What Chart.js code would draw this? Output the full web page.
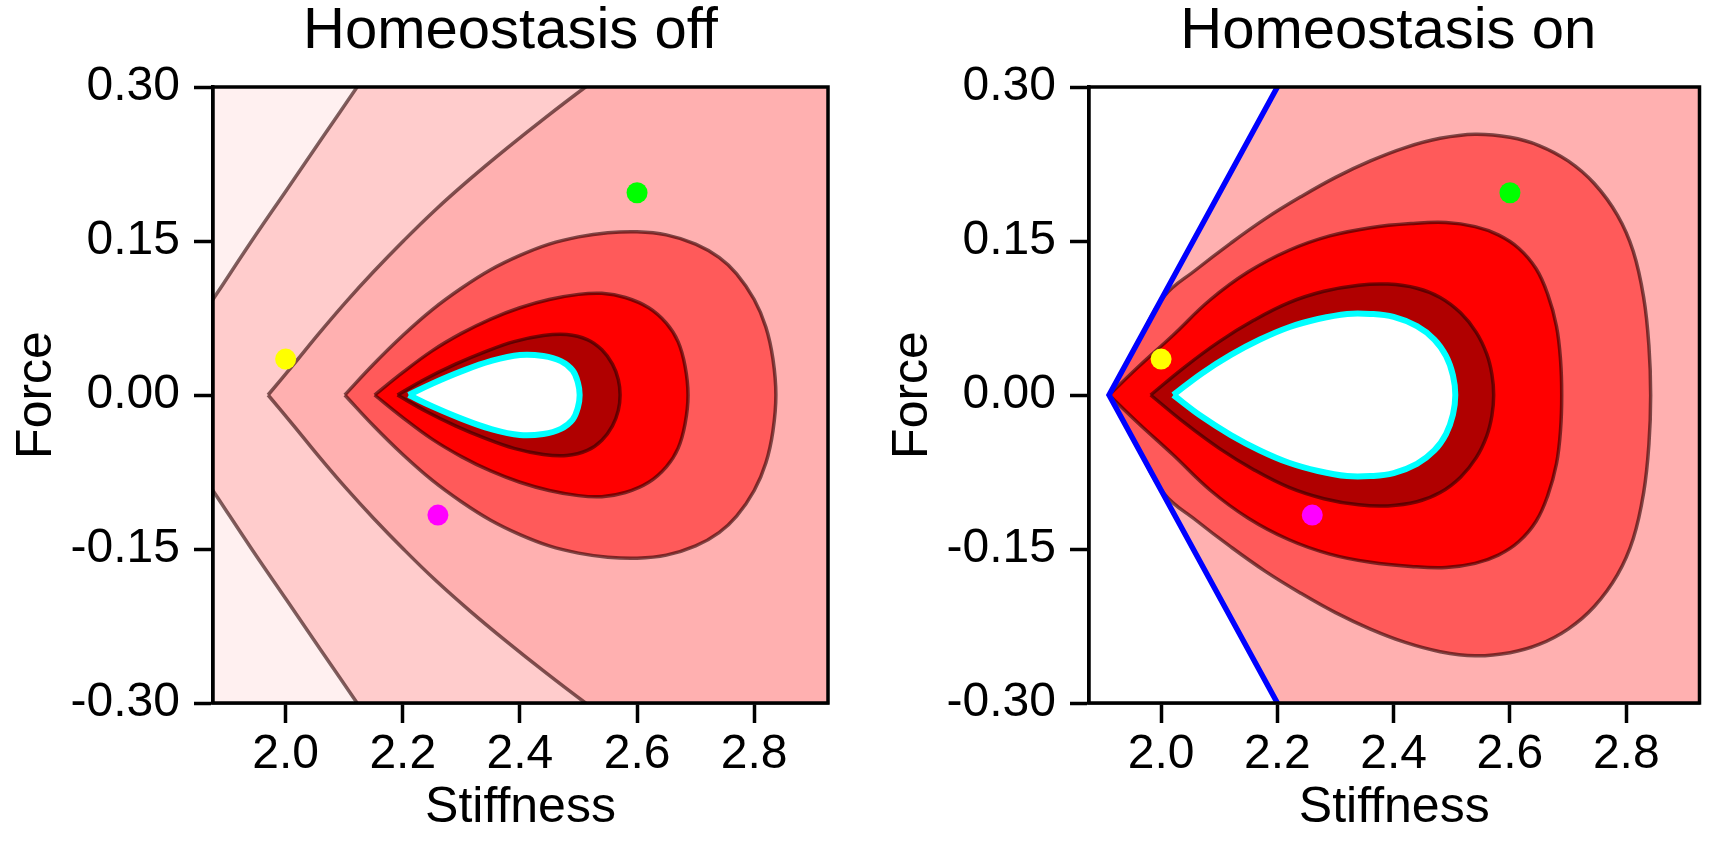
<!DOCTYPE html>
<html>
<head>
<meta charset="utf-8">
<script src="https://cdn.jsdelivr.net/npm/chart.js@4.4.1/dist/chart.umd.min.js"></script>
<style>
  html, body { margin: 0; padding: 0; background: #fff; }
  body { width: 1710px; height: 860px; position: relative; overflow: hidden; }
  canvas { position: absolute; top: 0; }
  #chartOff { left: 0; }
  #chartOn { left: 876px; }
</style>
</head>
<body>
<canvas id="chartOff" width="860" height="860"></canvas>
<canvas id="chartOn" width="834" height="860"></canvas>
<script>
// eixos
const xTicks = [2.0, 2.2, 2.4, 2.6, 2.8];
const yTicks = [-0.30, -0.15, 0.00, 0.15, 0.30];
const xRange = [1.876, 2.926];
const yRange = [-0.30, 0.30];

// pontos marcados (iguais nos dois painéis)
const dotX = [2.0, 2.6, 2.26];
const dotY = [0.035, 0.197, -0.117];
const dotColors = ['#ffff00', '#00ff00', '#ff00ff'];

// Homeostasis off - contornos (vértice -> ramo superior -> ramo inferior -> vértice)
const offAx = [1.770, 1.826, 1.884, 1.942, 2.002, 2.062, 2.122, 2.158, 2.194, 3.3, 3.3, 2.194, 2.158, 2.122, 2.062, 2.002, 1.942, 1.884, 1.826, 1.770];
const offAy = [0, 0.05, 0.10, 0.15, 0.20, 0.25, 0.30, 0.33, 0.36, 0.36, -0.36, -0.36, -0.33, -0.30, -0.25, -0.20, -0.15, -0.10, -0.05, 0];

const offBx = [1.970, 2.014, 2.057, 2.102, 2.150, 2.201, 2.255, 2.314, 2.377, 2.443, 2.512, 2.585, 2.66, 3.3, 3.3, 2.66, 2.585, 2.512, 2.443, 2.377, 2.314, 2.255, 2.201, 2.150, 2.102, 2.057, 2.014, 1.970];
const offBy = [0, 0.03, 0.06, 0.09, 0.12, 0.15, 0.18, 0.21, 0.24, 0.27, 0.30, 0.33, 0.36, 0.36, -0.36, -0.36, -0.33, -0.30, -0.27, -0.24, -0.21, -0.18, -0.15, -0.12, -0.09, -0.06, -0.03, 0];

const offCx = [2.101, 2.15, 2.20, 2.25, 2.30, 2.35, 2.40, 2.45, 2.50, 2.55, 2.60, 2.65, 2.70, 2.74, 2.77, 2.80, 2.82, 2.832, 2.837, 2.832, 2.82, 2.80, 2.77, 2.74, 2.70, 2.65, 2.60, 2.55, 2.50, 2.45, 2.40, 2.35, 2.30, 2.25, 2.20, 2.15, 2.101];
const offCy = [0, 0.030, 0.058, 0.083, 0.104, 0.122, 0.136, 0.147, 0.154, 0.158, 0.159, 0.156, 0.147, 0.134, 0.118, 0.093, 0.066, 0.035, 0, -0.035, -0.066, -0.093, -0.118, -0.134, -0.147, -0.156, -0.159, -0.158, -0.154, -0.147, -0.136, -0.122, -0.104, -0.083, -0.058, -0.030, 0];

const offDx = [2.152, 2.20, 2.25, 2.30, 2.35, 2.40, 2.45, 2.50, 2.54, 2.58, 2.62, 2.65, 2.67, 2.682, 2.687, 2.682, 2.67, 2.65, 2.62, 2.58, 2.54, 2.50, 2.45, 2.40, 2.35, 2.30, 2.25, 2.20, 2.152];
const offDy = [0, 0.022, 0.043, 0.060, 0.074, 0.085, 0.093, 0.098, 0.099, 0.095, 0.085, 0.070, 0.052, 0.028, 0, -0.028, -0.052, -0.070, -0.085, -0.095, -0.099, -0.098, -0.093, -0.085, -0.074, -0.060, -0.043, -0.022, 0];

const offEx = [2.191, 2.24, 2.29, 2.34, 2.39, 2.44, 2.48, 2.515, 2.54, 2.558, 2.568, 2.571, 2.568, 2.558, 2.54, 2.515, 2.48, 2.44, 2.39, 2.34, 2.29, 2.24, 2.191];
const offEy = [0, 0.016, 0.030, 0.042, 0.052, 0.058, 0.059, 0.054, 0.044, 0.030, 0.015, 0, -0.015, -0.030, -0.044, -0.054, -0.059, -0.058, -0.052, -0.042, -0.030, -0.016, 0];

const offCyanX = [2.210, 2.25, 2.30, 2.35, 2.40, 2.44, 2.47, 2.49, 2.499, 2.502, 2.499, 2.49, 2.47, 2.44, 2.40, 2.35, 2.30, 2.25, 2.210];
const offCyanY = [0, 0.011, 0.023, 0.033, 0.039, 0.038, 0.033, 0.024, 0.012, 0, -0.012, -0.024, -0.033, -0.038, -0.039, -0.033, -0.023, -0.011, 0];

// Homeostasis on - limite azul e contornos
const vLineX = [2.2, 1.9105, 2.2];
const vLineY = [0.30, 0, -0.30];

const onPinkX = [1.9105, 2.2, 2.229, 3.3, 3.3, 2.229, 2.2, 1.9105];
const onPinkY = [0, 0.30, 0.33, 0.6, -0.6, -0.33, -0.30, 0];

const onGx = [1.9105, 1.960, 2.005, 2.06, 2.12, 2.18, 2.24, 2.30, 2.36, 2.42, 2.48, 2.54, 2.60, 2.65, 2.70, 2.745, 2.785, 2.812, 2.830, 2.839, 2.842, 2.839, 2.830, 2.812, 2.785, 2.745, 2.70, 2.65, 2.60, 2.54, 2.48, 2.42, 2.36, 2.30, 2.24, 2.18, 2.12, 2.06, 2.005, 1.960, 1.9105];
const onGy = [0, 0.051, 0.096, 0.122, 0.148, 0.172, 0.193, 0.212, 0.228, 0.241, 0.250, 0.254, 0.251, 0.243, 0.228, 0.206, 0.175, 0.140, 0.095, 0.048, 0, -0.048, -0.095, -0.140, -0.175, -0.206, -0.228, -0.243, -0.251, -0.254, -0.250, -0.241, -0.228, -0.212, -0.193, -0.172, -0.148, -0.122, -0.096, -0.051, 0];

const onHx = [1.9105, 1.96, 2.02, 2.084, 2.15, 2.22, 2.29, 2.36, 2.43, 2.49, 2.54, 2.58, 2.615, 2.645, 2.665, 2.680, 2.687, 2.689, 2.687, 2.680, 2.665, 2.645, 2.615, 2.58, 2.54, 2.49, 2.43, 2.36, 2.29, 2.22, 2.15, 2.084, 2.02, 1.96, 1.9105];
const onHy = [0, 0.027, 0.058, 0.0925, 0.120, 0.141, 0.155, 0.163, 0.167, 0.168, 0.164, 0.156, 0.143, 0.123, 0.098, 0.067, 0.034, 0, -0.034, -0.067, -0.098, -0.123, -0.143, -0.156, -0.164, -0.168, -0.167, -0.163, -0.155, -0.141, -0.120, -0.0925, -0.058, -0.027, 0];

const onIx = [1.982, 2.04, 2.10, 2.16, 2.22, 2.28, 2.34, 2.39, 2.44, 2.48, 2.515, 2.542, 2.560, 2.569, 2.572, 2.569, 2.560, 2.542, 2.515, 2.48, 2.44, 2.39, 2.34, 2.28, 2.22, 2.16, 2.10, 2.04, 1.982];
const onIy = [0, 0.027, 0.052, 0.073, 0.090, 0.101, 0.107, 0.108, 0.104, 0.095, 0.080, 0.061, 0.040, 0.020, 0, -0.020, -0.040, -0.061, -0.080, -0.095, -0.104, -0.108, -0.107, -0.101, -0.090, -0.073, -0.052, -0.027, 0];

const onCyanX = [2.021, 2.07, 2.12, 2.17, 2.22, 2.27, 2.32, 2.36, 2.40, 2.44, 2.47, 2.49, 2.502, 2.506, 2.502, 2.49, 2.47, 2.44, 2.40, 2.36, 2.32, 2.27, 2.22, 2.17, 2.12, 2.07, 2.021];
const onCyanY = [0, 0.021, 0.039, 0.054, 0.066, 0.074, 0.079, 0.079, 0.076, 0.067, 0.054, 0.038, 0.019, 0, -0.019, -0.038, -0.054, -0.067, -0.076, -0.079, -0.079, -0.074, -0.066, -0.054, -0.039, -0.021, 0];

const cores = {
    bg0: 'rgb(255,240,240)',
    lv1: 'rgb(255,204,204)',
    lv2: 'rgb(255,176,176)',
    lv3: 'rgb(255,90,90)',
    lv4: 'rgb(255,0,0)',
    lv5: 'rgb(176,0,0)',
    linha: 'rgba(40,0,0,0.6)'
};

Chart.defaults.font.family = "'Liberation Sans', Arial, Helvetica, sans-serif";
Chart.defaults.color = '#000';

const pts = (xs, ys) => xs.map((x, i) => ({ x: x, y: ys[i] }));

function camada(xs, ys, fundo, borda, largura, tensao) {
    return {
        data: pts(xs, ys),
        showLine: true,
        fill: 'shape',
        backgroundColor: fundo,
        borderColor: borda,
        borderWidth: largura,
        pointRadius: 0,
        tension: tensao,
        clip: 0
    };
}

function pontos() {
    return {
        data: pts(dotX, dotY),
        showLine: false,
        pointRadius: 10.5,
        pointBackgroundColor: dotColors,
        pointBorderColor: dotColors,
        pointBorderWidth: 0,
        clip: false
    };
}

// fundo da área do gráfico, moldura preta e ajuste do título
const moldura = {
    id: 'moldura',
    afterLayout(chart, args, opts) {
        const t = chart.titleBlock;
        if (t && opts.dx) {
            t.left += opts.dx;
            t.right += opts.dx;
        }
    },
    beforeDatasetsDraw(chart, args, opts) {
        const { ctx, chartArea: a } = chart;
        ctx.save();
        ctx.fillStyle = opts.fundo;
        ctx.fillRect(a.left, a.top, a.width, a.height);
        ctx.restore();
    },
    afterDatasetsDraw(chart) {
        const { ctx, chartArea: a } = chart;
        ctx.save();
        ctx.strokeStyle = '#000';
        ctx.lineWidth = 3.5;
        ctx.strokeRect(a.left, a.top, a.width, a.height);
        ctx.restore();
    }
};

function criarPainel(id, titulo, datasets, fundo, padRight, dx) {
    return new Chart(document.getElementById(id), {
        type: 'scatter',
        data: { datasets: datasets },
        plugins: [moldura],
        options: {
            responsive: false,
            animation: false,
            events: [],
            layout: { padding: { left: 0, right: padRight, top: 0, bottom: 0 } },
            elements: { line: { capBezierPoints: false } },
            plugins: {
                legend: { display: false },
                tooltip: { enabled: false },
                moldura: { fundo: fundo, dx: dx },
                title: {
                    display: true,
                    text: titulo,
                    fullSize: false,
                    font: { size: 58, weight: 'normal', lineHeight: 1 },
                    padding: { top: 3, bottom: 26 },
                    color: '#000'
                }
            },
            scales: {
                x: {
                    type: 'linear',
                    min: xRange[0],
                    max: xRange[1],
                    afterBuildTicks: s => { s.ticks = xTicks.map(v => ({ value: v })); },
                    afterFit: s => { s.height = 157; },
                    ticks: {
                        callback: v => Number(v).toFixed(1),
                        font: { size: 48 },
                        padding: 3,
                        maxRotation: 0,
                        autoSkip: false
                    },
                    grid: { display: true, drawOnChartArea: false, drawTicks: true, tickLength: 20, tickWidth: 3.5, tickColor: '#000' },
                    border: { display: true, color: '#000', width: 3.5 },
                    title: { display: true, text: 'Stiffness', font: { size: 50 }, padding: { top: 0, bottom: 22 } }
                },
                y: {
                    type: 'linear',
                    min: yRange[0],
                    max: yRange[1],
                    afterBuildTicks: s => { s.ticks = yTicks.map(v => ({ value: v })); },
                    afterFit: s => { s.width = 213; },
                    ticks: {
                        callback: v => Number(v).toFixed(2),
                        font: { size: 48 },
                        padding: 14,
                        autoSkip: false
                    },
                    grid: { display: true, drawOnChartArea: false, drawTicks: true, tickLength: 19, tickWidth: 3.5, tickColor: '#000' },
                    border: { display: true, color: '#000', width: 3.5 },
                    title: { display: true, text: 'Force', font: { size: 50 }, padding: { top: 7, bottom: 0 } }
                }
            }
        }
    });
}

const azul = {
    data: pts(vLineX, vLineY),
    showLine: true,
    fill: false,
    borderColor: '#0000ff',
    borderWidth: 5.5,
    pointRadius: 0,
    tension: 0,
    clip: 0
};

criarPainel('chartOff', 'Homeostasis off', [
    pontos(),
    camada(offCyanX, offCyanY, '#ffffff', '#00ffff', 6, 0.4),
    camada(offEx, offEy, cores.lv5, cores.linha, 3.5, 0.4),
    camada(offDx, offDy, cores.lv4, cores.linha, 3.5, 0.4),
    camada(offCx, offCy, cores.lv3, cores.linha, 3.5, 0.4),
    camada(offBx, offBy, cores.lv2, cores.linha, 3.5, 0.4),
    camada(offAx, offAy, cores.lv1, cores.linha, 3.5, 0.4)
], cores.bg0, 32, -10);

criarPainel('chartOn', 'Homeostasis on', [
    pontos(),
    azul,
    camada(onCyanX, onCyanY, '#ffffff', '#00ffff', 6, 0.4),
    camada(onIx, onIy, cores.lv5, cores.linha, 3.5, 0.4),
    camada(onHx, onHy, cores.lv4, cores.linha, 3.5, 0.4),
    camada(onGx, onGy, cores.lv3, cores.linha, 3.5, 0.4),
    camada(onPinkX, onPinkY, cores.lv2, 'rgba(0,0,0,0)', 1, 0)
], '#ffffff', 7, -6);
</script>
</body>
</html>
